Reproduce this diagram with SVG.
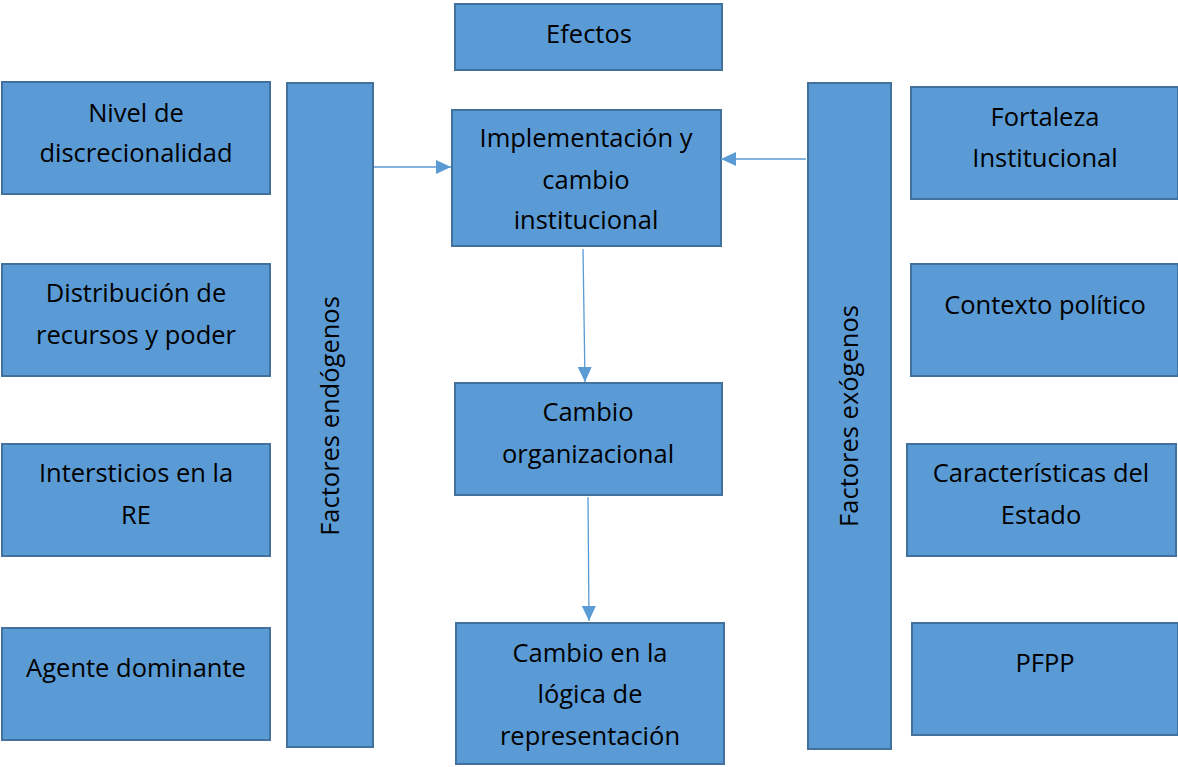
<svg xmlns="http://www.w3.org/2000/svg" width="1178" height="767" viewBox="0 0 1178 767">
<style>
.b{fill:#5b9bd5;stroke:#41719c;stroke-width:2}
.t{font-family:"Open Sans","Liberation Sans",Arial,sans-serif;font-size:25.5px;fill:#000;text-anchor:middle}
.c{stroke:#5b9bd5;stroke-width:1.3;fill:none}
</style>
<defs>
<marker id="ah" markerWidth="15" markerHeight="14" refX="15" refY="7" orient="auto" markerUnits="userSpaceOnUse" viewBox="0 0 15 14">
<path d="M0,0 L15,7 L0,14 z" fill="#5b9bd5"/>
</marker>
</defs>
<rect width="1178" height="767" fill="#fff"/>
<g id="efectos"><rect class="b" x="455" y="4" width="267" height="66"/><text class="t" x="589" y="43">Efectos</text></g>
<g id="nivel"><rect class="b" x="2" y="82" width="268" height="112"/><text class="t" x="136" y="122">Nivel de</text><text class="t" x="136" y="162">discrecionalidad</text></g>
<g id="distribucion"><rect class="b" x="2" y="264" width="268" height="112"/><text class="t" x="136" y="302">Distribución de</text><text class="t" x="136" y="344">recursos y poder</text></g>
<g id="intersticios"><rect class="b" x="2" y="444" width="268" height="112"/><text class="t" x="136" y="482">Intersticios en la</text><text class="t" x="136" y="524">RE</text></g>
<g id="agente"><rect class="b" x="2" y="628" width="268" height="112"/><text class="t" x="136" y="677">Agente dominante</text></g>
<g id="endogenos"><rect class="b" x="287" y="83" width="86" height="664"/><text class="t" transform="translate(339,416) rotate(-90)">Factores endógenos</text></g>
<g id="implementacion"><rect class="b" x="452" y="110" width="269" height="136"/><text class="t" x="586" y="147">Implementación y</text><text class="t" x="586" y="189">cambio</text><text class="t" x="586" y="229">institucional</text></g>
<g id="organizacional"><rect class="b" x="455" y="383" width="267" height="112"/><text class="t" x="588" y="421">Cambio</text><text class="t" x="588" y="463">organizacional</text></g>
<g id="logica"><rect class="b" x="456" y="623" width="268" height="141"/><text class="t" x="590" y="662">Cambio en la</text><text class="t" x="590" y="703">lógica de</text><text class="t" x="590" y="745">representación</text></g>
<g id="exogenos"><rect class="b" x="808" y="83" width="83" height="666"/><text class="t" transform="translate(858,416) rotate(-90)">Factores exógenos</text></g>
<g id="fortaleza"><rect class="b" x="911" y="87" width="267" height="112"/><text class="t" x="1045" y="126">Fortaleza</text><text class="t" x="1045" y="167">Institucional</text></g>
<g id="contexto"><rect class="b" x="911" y="264" width="267" height="112"/><text class="t" x="1045" y="314">Contexto político</text></g>
<g id="caracteristicas"><rect class="b" x="907" y="444" width="269" height="112"/><text class="t" x="1041" y="482">Características del</text><text class="t" x="1041" y="524">Estado</text></g>
<g id="pfpp"><rect class="b" x="912" y="623" width="266" height="112"/><text class="t" x="1045" y="672">PFPP</text></g>
<g id="connectors">
<path class="c" d="M374,167 L451,167" marker-end="url(#ah)"/>
<path class="c" d="M806,159 L721,159" marker-end="url(#ah)"/>
<path class="c" d="M583,249 L585,382" marker-end="url(#ah)"/>
<path class="c" d="M588,497 L589,621" marker-end="url(#ah)"/>
</g>
</svg>
